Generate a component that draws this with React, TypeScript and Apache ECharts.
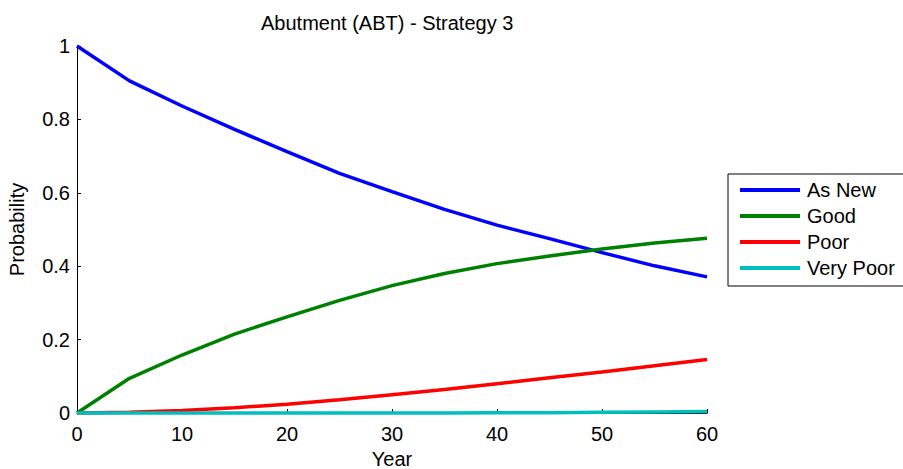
import React, { useEffect, useRef } from "react";
import * as echarts from "echarts";

const years = [0, 5, 10, 15, 20, 25, 30, 35, 40, 45, 50, 55, 60];
const asNew = [1.0, 0.905, 0.8365, 0.773, 0.712, 0.653, 0.603, 0.555, 0.512, 0.475, 0.437, 0.401, 0.371];
const good = [0.0, 0.0945, 0.158, 0.215, 0.262, 0.307, 0.347, 0.38, 0.407, 0.428, 0.447, 0.463, 0.476];
const poor = [0.0, 0.002, 0.007, 0.014, 0.024, 0.036, 0.05, 0.064, 0.08, 0.096, 0.112, 0.129, 0.146];
const veryPoor = [0, 0, 0, 0, 0, 0, 0, 0, 0.001, 0.001, 0.002, 0.003, 0.004];

const seriesNames = ["As New", "Good", "Poor", "Very Poor"];
const seriesColors = ["#0000ff", "#008000", "#ff0000", "#00bfbf"];
const xTicks = { min: 0, max: 60, interval: 10 };
const yTicks = { min: 0, max: 1, interval: 0.2 };

const FONT = "Arial, 'Liberation Sans', sans-serif";
const FS = 20;

export default function App() {
  const ref = useRef<HTMLDivElement>(null);
  useEffect(() => {
    if (!ref.current) return;
    const chart = echarts.init(ref.current, undefined, { renderer: "svg" });
    const all = [asNew, good, poor, veryPoor];
    chart.setOption({
      animation: false,
      backgroundColor: "#ffffff",
      textStyle: { fontFamily: FONT },
      title: {
        text: "Abutment (ABT) - Strategy 3",
        left: 261,
        top: 13,
        padding: 0,
        textStyle: { fontFamily: FONT, fontSize: FS, fontWeight: "normal", color: "#000" },
      },
      grid: {
        left: 77,
        top: 46,
        width: 630,
        height: 367,
        containLabel: false,
        outerBoundsMode: "none",
      },
      legend: {
        orient: "vertical",
        left: 740,
        top: 180,
        padding: 0,
        itemWidth: 60,
        itemHeight: 4,
        itemGap: 6,
        icon: "rect",
        data: seriesNames,
        textStyle: { fontFamily: FONT, fontSize: FS, color: "#000", lineHeight: 20, padding: [0, 0, 0, 2] },
      },
      graphic: [
        {
          type: "rect",
          shape: { x: 728, y: 174, width: 200, height: 112 },
          style: { fill: "none", stroke: "#000", lineWidth: 1 },
          z: 1,
        },
      ],
      xAxis: {
        type: "value",
        min: xTicks.min,
        max: xTicks.max,
        interval: xTicks.interval,
        name: "Year",
        nameLocation: "middle",
        nameGap: 35,
        nameTextStyle: { fontFamily: FONT, fontSize: FS, color: "#000", lineHeight: 18 },
        axisLine: { lineStyle: { color: "#000", width: 1 } },
        axisTick: { inside: true, length: 4, lineStyle: { color: "#000" } },
        axisLabel: { margin: 11, fontFamily: FONT, fontSize: FS, color: "#000" },
        splitLine: { show: false },
      },
      yAxis: {
        type: "value",
        min: yTicks.min,
        max: yTicks.max,
        interval: yTicks.interval,
        name: "Probability",
        nameLocation: "middle",
        nameGap: 50,
        nameRotate: 90,
        nameTextStyle: { fontFamily: FONT, fontSize: FS, color: "#000" },
        axisLine: { show: true, lineStyle: { color: "#000", width: 1 } },
        axisTick: { show: true, inside: true, length: 4, lineStyle: { color: "#000" } },
        axisLabel: { margin: 7, fontFamily: FONT, fontSize: FS, color: "#000" },
        splitLine: { show: false },
      },
      series: seriesNames.map((name, i) => ({
        name,
        type: "line",
        data: years.map((y, j) => [y, all[i][j]]),
        showSymbol: false,
        symbol: "none",
        clip: false,
        color: seriesColors[i],
        lineStyle: { color: seriesColors[i], width: 3.5 },
        z: 2 + i,
      })),
    });
    return () => chart.dispose();
  }, []);
  return <div ref={ref} style={{ width: 903, height: 469, position: "absolute", left: 0, top: 0 }} />;
}
